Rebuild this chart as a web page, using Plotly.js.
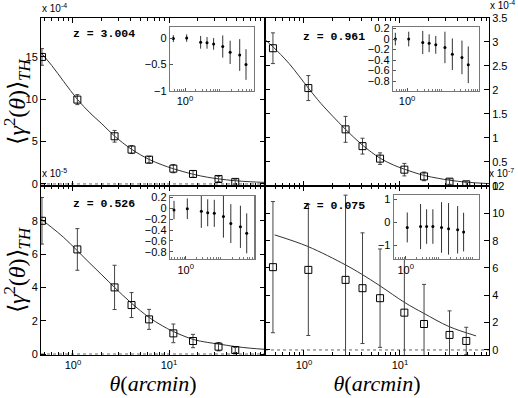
<!DOCTYPE html>
<html>
<head>
<meta charset="utf-8">
<script src="https://cdn.plot.ly/plotly-3.0.1.min.js"></script>
<style>
html, body { margin: 0; padding: 0; background: #fff; }
#plot { width: 518px; height: 398px; }
</style>
</head>
<body>
<div id="plot"></div>
<script>
// angular scales in arcmin (same bins for every redshift)
const theta = [0.475, 1.11, 2.71, 4.07, 6.2, 11.1, 17.8, 32.8, 49];

// z = 3.004, values x 10^-4
const g1 = [15.0, 9.96, 5.63, 4.06, 2.87, 1.81, 1.18, 0.59, 0.24];
const e1 = [0.98, 0.59, 0.69, 0.47, 0.39, 0.49, 0.39, 0.31, 0.26];
const fitTh1 = [0.464, 0.6, 0.8, 1.11, 1.5, 2, 2.71, 4.07, 6.2, 8.5, 11.1, 17.8, 25, 32.8, 49, 70, 100];
const fit1 = [15.5, 14.0, 12.1, 10.0, 8.4, 7.1, 5.65, 4.1, 2.9, 2.25, 1.8, 1.15, 0.8, 0.6, 0.38, 0.26, 0.18];

// z = 0.961, values x 10^-4
const g2 = [2.87, 2.04, 1.18, 0.83, 0.57, 0.34, 0.2, 0.09, 0.035];
const e2 = [0.32, 0.26, 0.27, 0.165, 0.12, 0.13, 0.09, 0.055, 0.05];
const fitTh2 = [0.393, 0.475, 0.7, 1.11, 1.5, 2, 2.71, 4.07, 6.2, 8.5, 11.1, 17.8, 25, 32.8, 49, 84.5];
const fit2 = [3.05, 2.9, 2.55, 2.04, 1.72, 1.45, 1.18, 0.85, 0.58, 0.44, 0.35, 0.22, 0.16, 0.12, 0.08, 0.05];

// z = 0.526, values x 10^-5
const g3 = [8.0, 6.28, 4.0, 2.94, 2.08, 1.24, 0.78, 0.44, 0.24];
const e3 = [1.4, 1.25, 1.33, 0.75, 0.6, 0.56, 0.4, 0.25, 0.15];
const fitTh3 = [0.464, 0.6, 0.8, 1.11, 1.5, 2, 2.71, 4.07, 6.2, 8.5, 11.1, 17.8, 25, 32.8, 49, 70, 100];
const fit3 = [8.1, 7.6, 7.0, 6.2, 5.45, 4.75, 4.0, 3.05, 2.2, 1.7, 1.35, 0.88, 0.7, 0.6, 0.45, 0.35, 0.28];

// z = 0.075, values x 10^-7
const g4 = [6.06, 5.86, 5.13, 4.52, 3.79, 2.73, 1.9, 1.1, 0.66];
const e4 = [4.8, 4.8, 6.2, 4.05, 3.6, 3.9, 2.9, 1.76, 1.0];
const fitTh4 = [0.495, 1.1, 2.7, 4.0, 6.2, 11.2, 17.6, 32.5, 62];
const fit4 = [8.42, 7.57, 6.23, 5.54, 4.69, 3.47, 2.69, 1.71, 1.03];

// inset ratios
const r1 = [-0.01, 0.0, -0.08, -0.09, -0.11, -0.16, -0.27, -0.32, -0.5];
const re1 = [0.065, 0.07, 0.12, 0.11, 0.11, 0.21, 0.22, 0.3, 0.29];
const r2 = [0.0, 0.0, -0.065, -0.08, -0.11, -0.16, -0.29, -0.35, -0.49];
const re2 = [0.12, 0.14, 0.22, 0.17, 0.17, 0.3, 0.3, 0.32, 0.35];
const r3 = [-0.03, -0.006, -0.05, -0.08, -0.09, -0.15, -0.28, -0.34, -0.46];
const re3 = [0.17, 0.19, 0.31, 0.25, 0.25, 0.39, 0.36, 0.39, 0.37];
const th4 = theta.slice(1);
const r4 = [-0.23, -0.19, -0.19, -0.19, -0.23, -0.29, -0.33, -0.43];
const re4 = [0.65, 0.98, 0.75, 0.75, 1.1, 1.12, 1.03, 0.84];

const zLabels = ['z = 3.004', 'z = 0.961', 'z = 0.526', 'z = 0.075'];

// log minor ticks
let minorVals = [];
for (const d of [0.1, 1, 10]) {
    for (let k = 2; k <= 9; k++) minorVals.push(k * d);
}

const tickFont = {family: 'Liberation Sans, Arial, sans-serif', size: 11, color: '#000'};

function fitTrace(x, y, n) {
    return {x: x, y: y, xaxis: 'x' + n, yaxis: 'y' + n, mode: 'lines',
        line: {color: '#333', width: 1, shape: 'spline'}, hoverinfo: 'skip'};
}
function dataTrace(y, err, n) {
    return {x: theta, y: y, xaxis: 'x' + n, yaxis: 'y' + n, mode: 'markers',
        marker: {symbol: 'square-open', size: 7, color: '#000', line: {width: 1, color: '#000'}},
        error_y: {type: 'data', array: err, color: '#444', thickness: 1, width: 2}};
}
function insetTrace(x, y, err, n) {
    return {x: x, y: y, xaxis: 'x' + n, yaxis: 'y' + n, mode: 'markers',
        marker: {symbol: 'circle', size: 3, color: '#000'},
        error_y: {type: 'data', array: err, color: '#333', thickness: 1, width: 0}};
}

let traces = [
    fitTrace(fitTh1, fit1, ''), dataTrace(g1, e1, ''),
    fitTrace(fitTh2, fit2, 2), dataTrace(g2, e2, 2),
    fitTrace(fitTh3, fit3, 3), dataTrace(g3, e3, 3),
    fitTrace(fitTh4, fit4, 4), dataTrace(g4, e4, 4),
    insetTrace(theta, r1, re1, 5),
    insetTrace(theta, r2, re2, 6),
    insetTrace(theta, r3, re3, 7),
    insetTrace(th4, r4, re4, 8)
];

function mainX(domain, range, anchor, labels) {
    let ax = {domain: domain, range: range, type: 'log', anchor: anchor,
        showline: true, linecolor: '#000', linewidth: 1, mirror: 'ticks',
        ticks: 'inside', ticklen: 5, tickcolor: '#000',
        tickvals: [1, 10], ticktext: ['10<sup>0</sup>', '10<sup>1</sup>'],
        showticklabels: labels, tickfont: tickFont,
        minor: {ticks: 'inside', ticklen: 3, tickcolor: '#000', tickvals: minorVals, showgrid: false},
        showgrid: false, zeroline: false};
    if (labels) {
        ax.title = {text: '<i>θ</i>(<i>arcmin</i>)', standoff: 5,
            font: {family: 'Liberation Serif, serif', size: 22, color: '#000'}};
    }
    return ax;
}
function mainY(domain, range, anchor, side, tickvals, withTitle) {
    let ax = {domain: domain, range: range, anchor: anchor, side: side,
        showline: true, linecolor: '#000', linewidth: 1, mirror: 'ticks',
        ticks: 'inside', ticklen: 5, tickcolor: '#000', tickvals: tickvals,
        tickfont: tickFont, showgrid: false, zeroline: false};
    if (withTitle) {
        ax.title = {text: '⟨<i>γ</i><sup>2</sup>(<i>θ</i>)⟩<sub><i>TH</i></sub>', standoff: 4,
            font: {family: 'Liberation Serif, serif', size: 24, color: '#000'}};
    }
    return ax;
}
function insetX(domain, range, anchor) {
    return {domain: domain, range: range, type: 'log', anchor: anchor,
        showline: true, linecolor: '#777', linewidth: 1.3, mirror: true,
        ticks: 'inside', ticklen: 3, tickcolor: '#555',
        tickvals: [1], ticktext: ['10<sup>0</sup>'], tickfont: tickFont,
        minor: {ticks: 'inside', ticklen: 2, tickcolor: '#777', tickvals: minorVals, showgrid: false},
        showgrid: false, zeroline: false};
}
function insetY(domain, range, anchor, tickvals) {
    return {domain: domain, range: range, anchor: anchor,
        showline: true, linecolor: '#777', linewidth: 1.3, mirror: true,
        ticks: 'inside', ticklen: 3, tickcolor: '#555', tickvals: tickvals,
        tickfont: tickFont, showgrid: false, zeroline: false};
}

const colL = [0.0792, 0.5116], colR = [0.5116, 0.944];
const rowT = [0.5327, 0.9548], rowB = [0.108, 0.5327];

let layout = {
    width: 518, height: 398,
    margin: {l: 0, r: 0, t: 0, b: 0},
    paper_bgcolor: '#fff', plot_bgcolor: '#fff',
    showlegend: false,
    xaxis: mainX(colL, [-0.333, 2.0], 'y', false),
    yaxis: mainY(rowT, [-0.24, 19.6], 'x', 'left', [0, 5, 10, 15], true),
    xaxis2: mainX(colR, [-0.406, 1.927], 'y2', false),
    yaxis2: mainY(rowT, [0, 3.5], 'x2', 'right', [0, 0.5, 1, 1.5, 2, 2.5, 3, 3.5], false),
    xaxis3: mainX(colL, [-0.333, 2.0], 'y3', true),
    yaxis3: mainY(rowB, [-0.06, 10.09], 'x3', 'left', [0, 2, 4, 6, 8], true),
    xaxis4: mainX(colR, [-0.406, 1.927], 'y4', true),
    yaxis4: mainY(rowB, [-0.37, 12], 'x4', 'right', [0, 2, 4, 6, 8, 10, 12], false),
    xaxis5: insetX([0.3282, 0.4903], [-0.416, 1.911], 'y5'),
    yaxis5: insetY([0.7714, 0.9322], [-1.0, 0.21], 'x5', [-1, -0.5, 0]),
    xaxis6: insetX([0.7587, 0.9247], [-0.388, 1.986], 'y6'),
    yaxis6: insetY([0.7714, 0.9322], [-0.99, 0.23], 'x6', [-0.8, -0.6, -0.4, -0.2, 0, 0.2]),
    xaxis7: insetX([0.3282, 0.4909], [-0.434, 1.9], 'y7'),
    yaxis7: insetY([0.3492, 0.5075], [-0.935, 0.23], 'x7', [-0.8, -0.6, -0.4, -0.2, 0, 0.2]),
    xaxis8: insetX([0.7606, 0.9247], [-0.343, 2.14], 'y8'),
    yaxis8: insetY([0.3492, 0.5101], [-1.6, 1.18], 'x8', [-1, 0, 1]),
    shapes: [],
    annotations: []
};

// dotted zero lines
for (const n of ['', 2, 3, 4]) {
    layout.shapes.push({type: 'line', xref: 'x' + n + ' domain', yref: 'y' + n,
        x0: 0, x1: 1, y0: 0, y1: 0, layer: 'below',
        line: {color: '#666', width: 1, dash: 'dot'}});
}

// redshift labels
const zPos = [[0.2017, 0.9146], [0.6452, 0.9078], [0.2008, 0.4899], [0.6454, 0.4849]];
zLabels.forEach((t, i) => {
    layout.annotations.push({text: '<b>' + t + '</b>', xref: 'paper', yref: 'paper',
        x: zPos[i][0], y: zPos[i][1], showarrow: false, xanchor: 'center', yanchor: 'middle',
        font: {family: 'Liberation Mono, Courier New, monospace', size: 11.5, color: '#000'}});
});

// exponent labels
const expo = [['-4', 0.0792, 0.962], ['-5', 0.0792, 0.547],
              ['-4', 0.944, 0.969], ['-7', 0.942, 0.5485]];
for (const e of expo) {
    layout.annotations.push({text: 'x 10<sup>' + e[0] + '</sup>', xref: 'paper', yref: 'paper',
        x: e[1], y: e[2], showarrow: false, xanchor: 'left', yanchor: 'bottom',
        borderpad: 0, font: {family: 'Liberation Sans, Arial, sans-serif', size: 10, color: '#000'}});
}

Plotly.newPlot('plot', traces, layout, {staticPlot: true});
</script>
</body>
</html>
